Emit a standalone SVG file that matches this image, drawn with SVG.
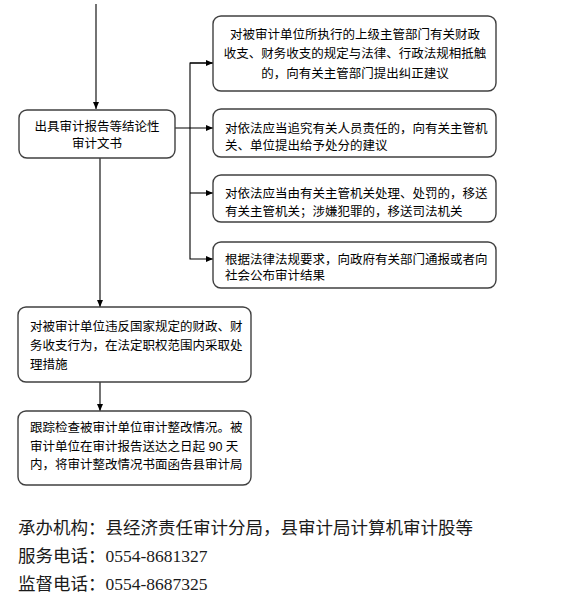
<svg xmlns="http://www.w3.org/2000/svg" width="572" height="609" viewBox="0 0 572 609">
<defs>
<style>
.box{fill:#fff;stroke:#404040;stroke-width:1.4}
.t{font-family:"Liberation Sans","Noto Sans CJK SC",sans-serif;font-size:12.5px;fill:#000}
.c{text-anchor:middle}
.ln{stroke:#000;stroke-width:1.1;fill:none}
.f{font-family:"Liberation Serif","Noto Sans CJK SC",serif;font-size:17.5px;fill:#1a1a1a}
</style>
<marker id="ah" markerUnits="userSpaceOnUse" markerWidth="7" markerHeight="7" refX="7" refY="3.5" orient="auto">
<path d="M0,0.5 L7,3.5 L0,6.5 z" fill="#000"/>
</marker>
</defs>
<rect width="572" height="609" fill="#fff"/>
<g id="connectors">
<line class="ln" x1="96" y1="4" x2="96" y2="109" marker-end="url(#ah)"/>
<line class="ln" x1="175" y1="128" x2="213" y2="128" marker-end="url(#ah)"/>
<polyline class="ln" points="213,63 190,63 190,259 213,259" marker-end="url(#ah)"/>
<line class="ln" x1="190" y1="63" x2="213" y2="63" marker-end="url(#ah)"/>
<line class="ln" x1="190" y1="193" x2="213" y2="193" marker-end="url(#ah)"/>
<line class="ln" x1="100" y1="158" x2="100" y2="307" marker-end="url(#ah)"/>
<line class="ln" x1="100" y1="382" x2="100" y2="411" marker-end="url(#ah)"/>
</g>
<g id="n-report">
<rect class="box" x="19" y="110" width="156" height="48" rx="8"/>
<text class="t c" x="97" y="131">出具审计报告等结论性</text>
<text class="t c" x="97" y="147.5">审计文书</text>
</g>
<g id="n-correct">
<rect class="box" x="213" y="16" width="283" height="75" rx="8"/>
<text class="t c" x="355" y="38.5">对被审计单位所执行的上级主管部门有关财政</text>
<text class="t c" x="355" y="58">收支、财务收支的规定与法律、行政法规相抵触</text>
<text class="t c" x="355" y="77.5">的，向有关主管部门提出纠正建议</text>
</g>
<g id="n-punish">
<rect class="box" x="213" y="109" width="283" height="48" rx="8"/>
<text class="t" x="225" y="132.5">对依法应当追究有关人员责任的，向有关主管机</text>
<text class="t" x="225" y="149.5">关、单位提出给予处分的建议</text>
</g>
<g id="n-transfer">
<rect class="box" x="213" y="175" width="283" height="47" rx="8"/>
<text class="t" x="225" y="197.5">对依法应当由有关主管机关处理、处罚的，移送</text>
<text class="t" x="225" y="215.5">有关主管机关；涉嫌犯罪的，移送司法机关</text>
</g>
<g id="n-publish">
<rect class="box" x="213" y="242" width="283" height="46" rx="8"/>
<text class="t" x="225" y="263.5">根据法律法规要求，向政府有关部门通报或者向</text>
<text class="t" x="225" y="280">社会公布审计结果</text>
</g>
<g id="n-measures">
<rect class="box" x="18" y="307" width="233" height="75" rx="8"/>
<text class="t" x="30" y="331">对被审计单位违反国家规定的财政、财</text>
<text class="t" x="30" y="350">务收支行为，在法定职权范围内采取处</text>
<text class="t" x="30" y="369">理措施</text>
</g>
<g id="n-followup">
<rect class="box" x="18" y="411" width="233" height="74" rx="8"/>
<text class="t" x="30" y="432">跟踪检查被审计单位审计整改情况。被</text>
<text class="t" x="30" y="451">审计单位在审计报告送达之日起 90 天</text>
<text class="t" x="30" y="469">内，将审计整改情况书面函告县审计局</text>
</g>
<g id="footer">
<text class="f" x="18" y="534">承办机构：县经济责任审计分局，县审计局计算机审计股等</text>
<text class="f" x="18" y="562">服务电话：0554-8681327</text>
<text class="f" x="18" y="590">监督电话：0554-8687325</text>
</g>
</svg>
